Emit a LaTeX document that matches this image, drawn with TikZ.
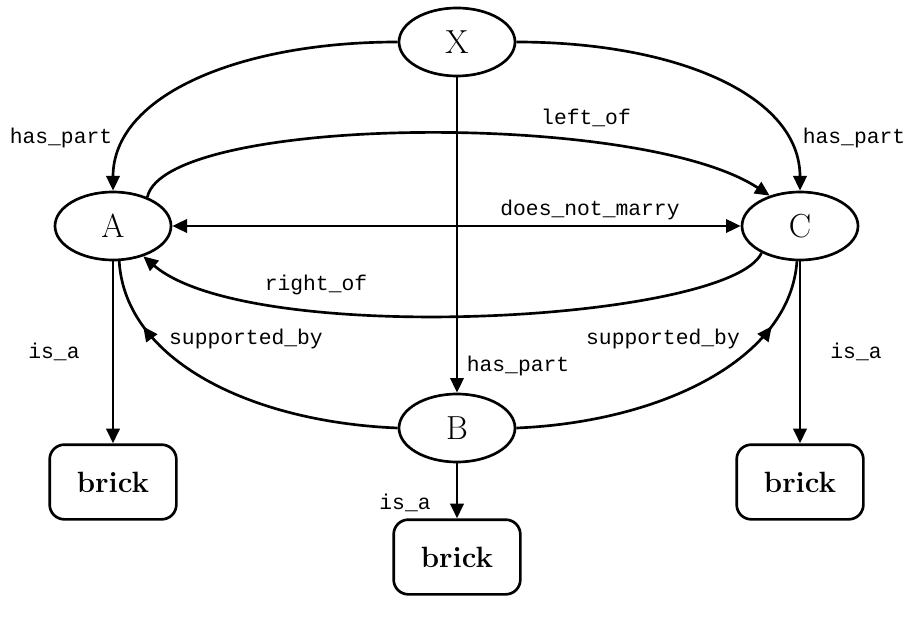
\documentclass[tikz,border=0pt]{standalone}
\usepackage{fontspec}
\setmonofont{Liberation Mono}
\usetikzlibrary{arrows.meta,decorations.markings,shapes.geometric}

\begin{document}
\begin{tikzpicture}[x=0.75pt,y=-0.75pt,
  ent/.style={ellipse,draw,line width=2pt,minimum width=87pt,minimum height=51pt,inner sep=0pt,
    font=\fontsize{25}{28}\selectfont},
  kind/.style={rectangle,rounded corners=11pt,draw,line width=2pt,minimum width=95pt,minimum height=56pt,
    inner sep=0pt,font=\fontsize{22}{26}\selectfont\bfseries},
  head/.style={Triangle[length=11pt,width=10pt]},
  rel/.style={line width=2pt,-{Triangle[length=11pt,width=10pt]}},
  lbl/.style={font=\ttfamily\fontsize{16}{18}\selectfont,inner sep=0pt},
  midarrow/.style={line width=2pt,postaction={decorate},
    decoration={markings,mark=at position #1 with {\arrow{Triangle[length=11pt,width=10pt]}}}}
]
\useasboundingbox (0,0) rectangle (912,623);

% concepts
\node[ent] (X) at (457,42) {X};
\node[ent] (A) at (113,226) {A};
\node[ent] (C) at (800,226) {C};
\node[ent] (B) at (457,428) {B};

% types
\node[kind] (bL) at (113,482) {brick};
\node[kind] (bR) at (800,482) {brick};
\node[kind] (bB) at (457,557) {brick};

% has_part relations
\draw[rel] (X.west) .. controls (240,42) and (113,95) .. (A.north);
\draw[rel] (X.east) .. controls (676,42) and (800,95) .. (C.north);
\draw[rel] (X.south) -- (B.north);
\node[lbl] (hpA) at (61,138) {has\_part};
\node[lbl] (hpC) at (854,138) {has\_part};
\node[lbl] (hpB) at (518,366) {has\_part};

% spatial relations between A and C
\draw[rel] (A.40) .. controls (165,115) and (640,110) .. (C.135);
\node[lbl] (lo) at (586,118) {left\_of};
\draw[line width=2pt,{Triangle[length=11pt,width=10pt]}-{Triangle[length=11pt,width=10pt]}] (A.east) -- (C.west);
\node[lbl] (dnm) at (590,210) {does\_not\_marry};
\draw[rel] (C.215) .. controls (730,322) and (250,348) .. (A.-45);
\node[lbl] (ro) at (316,285) {right\_of};

% support
\draw[midarrow=0.8] (B.west) .. controls (250,422) and (125,360) .. (A.-80);
\draw[midarrow=0.8] (B.east) .. controls (660,422) and (790,360) .. (C.-95);
\node[lbl] (sbA) at (246,339) {supported\_by};
\node[lbl] (sbC) at (663,339) {supported\_by};

% is_a
\draw[rel] (A.south) -- (bL.north);
\draw[rel] (C.south) -- (bR.north);
\draw[rel] (B.south) -- (bB.north);
\node[lbl] (isL) at (54,352) {is\_a};
\node[lbl] (isR) at (856,352) {is\_a};
\node[lbl] (isB) at (405,503) {is\_a};
\end{tikzpicture}
\end{document}
